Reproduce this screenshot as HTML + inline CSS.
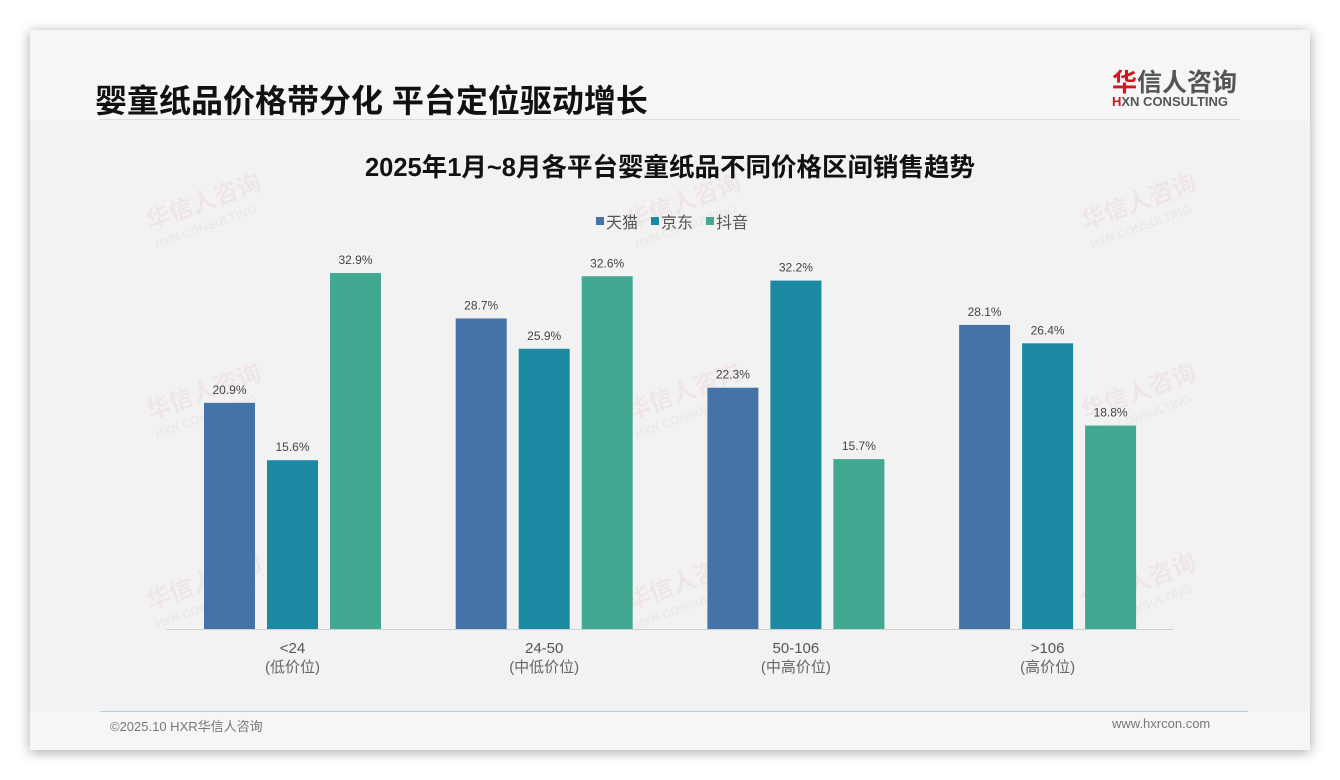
<!DOCTYPE html>
<html><head><meta charset="utf-8"><style>
body{margin:0;width:1340px;height:780px;background:#fff;font-family:"Liberation Sans","Noto Sans CJK SC",sans-serif;overflow:hidden;position:relative}
#card{position:absolute;left:30px;top:30px;width:1280px;height:720px;background:#f6f6f6;box-shadow:0 2px 12px rgba(0,0,0,.35)}
.t{position:absolute;white-space:nowrap}
</style></head><body>
<div id="card"></div>
<div class="t" style="left:95px;top:76px;font-size:32px;font-weight:bold;color:#111">婴童纸品价格带分化 平台定位驱动增长</div>
<div style="position:absolute;left:100px;top:119px;width:1140px;height:1px;background:#ddd"></div>
<div class="t" style="left:1112px;top:63px;font-size:25px;font-weight:bold;color:#555"><span style="color:#d0161e">华</span>信人咨询</div>
<div class="t" style="left:1112px;top:94px;font-size:13px;font-weight:bold;color:#555"><span style="color:#d0161e">H</span>XN CONSULTING</div>
<div style="position:absolute;left:30px;top:121px;width:1280px;height:590px;background:#f2f2f2"></div>
<div style="position:absolute;left:100px;top:711px;width:1148px;height:1px;background:#b8cde0"></div>
<div class="t" style="left:110px;top:716px;font-size:13px;color:#777">©2025.10 HXR华信人咨询</div>
<div class="t" style="left:1112px;top:716px;font-size:13px;color:#777">www.hxrcon.com</div>
<svg id="chart" width="1340" height="780" style="position:absolute;left:0;top:0" font-family="Liberation Sans, Noto Sans CJK SC, sans-serif"></svg>
<script>
const categories=["<24","24-50","50-106",">106"];
const subLabels=["(低价位)","(中低价位)","(中高价位)","(高价位)"];
const seriesNames=["天猫","京东","抖音"];
const tmall=[20.9,28.7,22.3,28.1];
const jd=[15.6,25.9,32.2,26.4];
const douyin=[32.9,32.6,15.7,18.8];
const colors=["#4473a8","#1a89a1","#42a891"];
const series=[tmall,jd,douyin];
const svg=document.getElementById('chart');const NS='http://www.w3.org/2000/svg';
function mk(tag,attrs,txt){const e=document.createElementNS(NS,tag);for(const k in attrs)e.setAttribute(k,attrs[k]);if(txt!==undefined)e.textContent=txt;svg.appendChild(e);return e;}
const base=629,pxPer=10.82;
const y=v=>base-v*pxPer;
const groupX=i=>204+i*251.7;
const barW=51,barStep=63;
[[150,230],[1085,230],[150,420],[630,420],[1085,420],[150,610],[630,610],[1085,610],[630,230]].forEach(p=>{
 const g=document.createElementNS(NS,'g');g.setAttribute('transform',`translate(${p[0]},${p[1]}) rotate(-20)`);g.setAttribute('opacity','0.05');
 
 
 svg.appendChild(g);
 const a=document.createElementNS(NS,'text');a.setAttribute('font-size','24');a.setAttribute('font-weight','bold');a.setAttribute('fill','#d0161e');a.textContent='华信人咨询';g.appendChild(a);
 const b=document.createElementNS(NS,'text');b.setAttribute('y','20');b.setAttribute('font-size','12');b.setAttribute('font-weight','bold');b.setAttribute('fill','#555');b.textContent='HXN CONSULTING';g.appendChild(b);
});
let t=mk('text',{x:670,y:176,'text-anchor':'middle','font-size':25.5,'font-weight':'bold',fill:'#111'},'2025年1月~8月各平台婴童纸品不同价格区间销售趋势');


const legX=[596,651,706];
seriesNames.forEach((n,i)=>{
 let r=mk('rect',{x:legX[i],y:217,width:8,height:8,fill:colors[i]});
 
 
 let l=mk('text',{x:legX[i]+10,y:228,'font-size':16,fill:'#555'},n);
 
 
});
let ax=mk('line',{x1:167,y1:base+0.5,x2:1173,y2:base+0.5,stroke:'#d0d0d0','stroke-width':1});


categories.forEach((c,i)=>{
 series.forEach((s,j)=>{
  const x=groupX(i)+j*barStep,v=s[i];
  let b=mk('rect',{x:x,y:y(v),width:barW,height:base-y(v),fill:colors[j]});
  
  
  let lb=mk('text',{x:x+barW/2,y:y(v)-9,'text-anchor':'middle','font-size':12,fill:'#444'},v.toFixed(1)+'%');
  
  
 });
 const cx=groupX(i)+barStep+barW/2;
 let c1=mk('text',{x:cx,y:653,'text-anchor':'middle','font-size':15,fill:'#555'},c);
 
 
 let c2=mk('text',{x:cx,y:672,'text-anchor':'middle','font-size':15,fill:'#666'},subLabels[i]);
 
 
});
</script>
</body></html>
